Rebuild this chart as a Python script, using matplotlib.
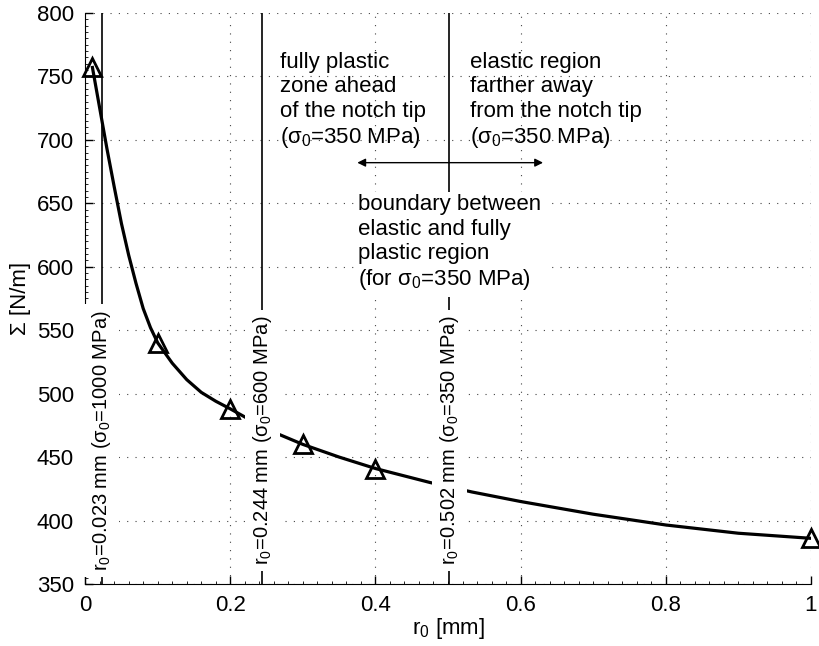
import matplotlib
matplotlib.use("Agg")
import matplotlib.pyplot as plt
from matplotlib.ticker import AutoMinorLocator, MultipleLocator

plt.rcParams['font.family'] = ['Liberation Sans', 'DejaVu Sans']
plt.rcParams['mathtext.fontset'] = 'custom'
plt.rcParams['mathtext.rm'] = 'Liberation Sans'
plt.rcParams['mathtext.it'] = 'Liberation Sans'
plt.rcParams['mathtext.default'] = 'rm'

# fitted curve
curve_r0 = [0.01, 0.02, 0.03, 0.04, 0.05, 0.06, 0.07, 0.08, 0.09, 0.1,
            0.12, 0.14, 0.16, 0.18, 0.2, 0.25, 0.3, 0.35, 0.4, 0.475,
            0.533, 0.6, 0.7, 0.8, 0.9, 1.0]
curve_sigma = [757, 725, 693, 663, 634, 609, 587, 567, 552, 540,
               524, 511, 501, 494, 488, 472, 460, 450, 441, 430,
               422.5, 415, 405, 396.5, 390, 386]

# computed points (triangles)
pts_r0 = [0.01, 0.1, 0.2, 0.3, 0.4, 1.0]
pts_sigma = [757, 540, 488, 460, 441, 386]

# boundary radii for the three yield stresses
bound_r0 = [0.023, 0.244, 0.502]
bound_labels = [r'r$_0$=0.023 mm ($\sigma_0$=1000 MPa)',
                r'r$_0$=0.244 mm ($\sigma_0$=600 MPa)',
                r'r$_0$=0.502 mm ($\sigma_0$=350 MPa)']

fig = plt.figure(figsize=(8.19, 6.46), dpi=100)
ax = fig.add_axes([0.104, 0.096, 0.886, 0.884])

ax.plot(curve_r0, curve_sigma, color='black', lw=2.3, zorder=3)
ax.plot(pts_r0, pts_sigma, linestyle='none', marker='^', ms=13, mfc='none',
        mec='black', mew=2, zorder=4, clip_on=False)

fs = 16
fs_lab = 14.5
for x, lab in zip(bound_r0, bound_labels):
    ax.axvline(x, color='black', lw=1.2, zorder=2)
    ax.text(x, 463, lab, rotation=90, ha='center', va='center', fontsize=fs_lab,
            zorder=6, bbox=dict(boxstyle='square,pad=0.3', fc='white', ec='none'))

ax.text(0.269, 769, 'fully plastic\nzone ahead\nof the notch tip\n($\\sigma_0$=350 MPa)',
        ha='left', va='top', fontsize=fs, linespacing=1.2, zorder=6)
ax.text(0.530, 769, 'elastic region\nfarther away\nfrom the notch tip\n($\\sigma_0$=350 MPa)',
        ha='left', va='top', fontsize=fs, linespacing=1.2, zorder=6)
ax.annotate('', xy=(0.375, 682), xytext=(0.631, 682),
            arrowprops=dict(arrowstyle='<|-|>', color='black', lw=1.0,
                            mutation_scale=12, shrinkA=0, shrinkB=0), zorder=5)
ax.text(0.376, 657, 'boundary between\nelastic and fully\nplastic region\n(for $\\sigma_0$=350 MPa)',
        ha='left', va='top', fontsize=fs, linespacing=1.2, zorder=6,
        bbox=dict(boxstyle='square,pad=0.2', fc='white', ec='none'))

ax.set_xlim(0, 1)
ax.set_ylim(350, 800)
ax.xaxis.set_major_locator(MultipleLocator(0.2))
ax.yaxis.set_major_locator(MultipleLocator(50))
ax.xaxis.set_minor_locator(AutoMinorLocator(10))
ax.yaxis.set_minor_locator(AutoMinorLocator(10))
ax.set_xticks([0, 0.2, 0.4, 0.6, 0.8, 1.0])
ax.set_xticklabels(['0', '0.2', '0.4', '0.6', '0.8', '1'])
ax.tick_params(which='major', direction='in', length=6, width=1, labelsize=fs, pad=8)
ax.tick_params(which='minor', direction='in', length=2.5, width=0.6)
ax.grid(True, which='major', linestyle=(0, (1, 6.5)), color='#444444', lw=0.8)
ax.spines['top'].set_visible(False)
ax.spines['right'].set_visible(False)
ax.set_xlabel('r$_0$ [mm]', fontsize=fs, labelpad=0)
ax.set_ylabel('Σ [N/m]', fontsize=fs, labelpad=4)

fig.savefig('out.png', dpi=100)
